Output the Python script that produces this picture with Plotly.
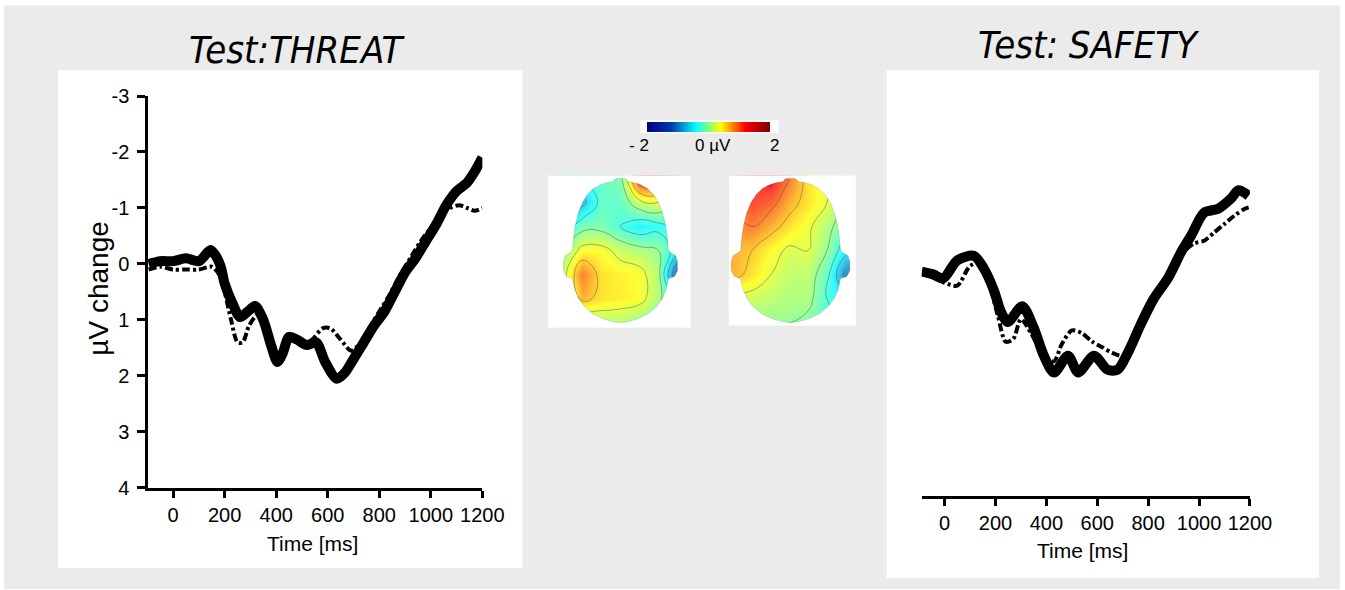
import plotly.graph_objects as go

# figure size chosen so that the photographed page fills the 1345x590 frame
FIG_W, FIG_H = 1368, 602
REF_W, REF_H, TOP = 1345, 590, 10.8
def fx(p): return p / REF_W
def fy(p): return 1 - (p - TOP) / (REF_H - TOP)

# ---------------- data ----------------
# Test: THREAT (left panel)
t_threat_solid = [-95, -50, 0, 50, 100, 145, 165, 185, 200, 230, 260, 290, 318, 350, 380, 405, 425,
                  450, 480, 520, 555, 590, 635, 665, 700, 740, 780, 820, 860, 900, 940, 980, 1020,
                  1060, 1100, 1140, 1170, 1200]
v_threat_solid = [0.0, -0.05, -0.05, -0.1, -0.05, -0.25, -0.15, 0.05, 0.35, 0.7, 0.95, 0.85, 0.75,
                  1.0, 1.45, 1.75, 1.6, 1.3, 1.35, 1.45, 1.4, 1.75, 2.05, 1.95, 1.7, 1.4, 1.1, 0.85,
                  0.5, 0.15, -0.1, -0.4, -0.7, -1.05, -1.3, -1.45, -1.65, -1.9]
t_threat_dash = [-95, -50, 0, 50, 100, 150, 180, 200, 225, 250, 270, 295, 330, 360, 390, 410, 440,
                 470, 500, 540, 580, 610, 650, 690, 720, 760, 800, 840, 880, 920, 960, 1000, 1040,
                 1075, 1110, 1140, 1170, 1200]
v_threat_dash = [0.1, 0.05, 0.1, 0.1, 0.1, 0.05, 0.2, 0.5, 1.0, 1.4, 1.4, 1.1, 0.9, 1.1, 1.55, 1.75,
                 1.35, 1.3, 1.45, 1.35, 1.15, 1.15, 1.35, 1.55, 1.45, 1.15, 0.85, 0.55, 0.2, -0.1,
                 -0.4, -0.65, -0.9, -1.0, -1.05, -1.0, -0.95, -1.0]

# Test: SAFETY (right panel)
t_safety_solid = [-90, -45, -5, 50, 115, 155, 195, 220, 248, 305, 350, 390, 430, 485, 525, 587, 640,
                  680, 720, 770, 820, 880, 930, 970, 1020, 1075, 1125, 1155, 1195]
v_safety_solid = [0.0, 0.05, 0.12, -0.2, -0.28, -0.05, 0.35, 0.7, 0.9, 0.62, 1.0, 1.5, 1.8, 1.5, 1.8,
                  1.5, 1.75, 1.75, 1.45, 0.95, 0.5, 0.1, -0.35, -0.65, -1.05, -1.12, -1.3, -1.45, -1.35]
t_safety_dash = [-90, -40, 0, 50, 100, 140, 180, 210, 240, 270, 300, 340, 390, 430, 460, 500, 540,
                 580, 620, 660, 700, 740, 780, 820, 860, 900, 940, 980, 1020, 1060, 1100, 1140, 1180, 1200]
v_safety_dash = [0.05, 0.1, 0.2, 0.25, -0.1, -0.15, 0.3, 0.8, 1.25, 1.2, 0.85, 1.1, 1.5, 1.6, 1.3,
                 1.05, 1.1, 1.25, 1.35, 1.45, 1.5, 1.2, 0.85, 0.5, 0.2, -0.1, -0.35, -0.5, -0.55,
                 -0.7, -0.85, -1.0, -1.12, -1.15]

x_ticks = [0, 200, 400, 600, 800, 1000, 1200]
y_ticks = [-3, -2, -1, 0, 1, 2, 3, 4]
y_ticktext = ["-3", "-2", "-1", "0", "1", "2", "3", "4"]

# scalp topographies (µV), rows front(top) -> back(bottom), cols left -> right
topo_threat = [
    [-0.5, -0.3, -0.2, -0.1, 1.2, 1.3, 0.8],
    [-1.0, -0.7, -0.2, -0.2, 0.2, 0.3, 0.0],
    [-0.5, -0.1, -0.1, -0.3, -0.5, -0.4, -0.3],
    [0.0, 0.4, 0.4, 0.2, 0.1, 0.0, -0.5],
    [0.2, 0.9, 0.5, 0.45, 0.4, 0.1, -1.3],
    [0.0, 0.7, 0.5, 0.45, 0.4, 0.1, -0.5],
    [-0.3, -0.1, 0.1, 0.1, 0.0, -0.2, -0.4],
]
topo_safety = [
    [0.8, 1.2, 1.3, 0.9, 0.5, 0.3, 0.1],
    [0.9, 1.1, 1.0, 0.7, 0.5, 0.3, 0.0],
    [0.8, 0.9, 0.7, 0.5, 0.35, 0.1, -0.2],
    [0.7, 0.6, 0.4, 0.25, 0.3, 0.0, -0.5],
    [0.7, 0.5, 0.3, 0.15, 0.15, -0.2, -1.0],
    [0.2, 0.2, 0.15, 0.1, 0.1, -0.3, -0.5],
    [-0.1, 0.0, 0.0, 0.0, -0.1, -0.2, -0.3],
]
cbar_range = [-2, 2]
cbar_labels = ["- 2", "0 µV", "2"]

# ---------------- figure ----------------
fig = go.Figure()
BLACK = "black"
SOLID_W = 10
DASH_W = 4
DASH = "8px,3px,3px,3px"

for (ts, vs, td, vd, xa, ya) in [
    (t_threat_solid, v_threat_solid, t_threat_dash, v_threat_dash, "x", "y"),
    (t_safety_solid, v_safety_solid, t_safety_dash, v_safety_dash, "x2", "y2"),
]:
    fig.add_trace(go.Scatter(x=ts, y=vs, mode="lines", xaxis=xa, yaxis=ya, showlegend=False,
                             line=dict(color=BLACK, width=SOLID_W, shape="spline", smoothing=0.8),
                             hoverinfo="skip"))
    fig.add_trace(go.Scatter(x=td, y=vd, mode="lines", xaxis=xa, yaxis=ya, showlegend=False,
                             line=dict(color=BLACK, width=DASH_W, dash=DASH, shape="spline", smoothing=0.8),
                             hoverinfo="skip"))

# heads
head_specs = [
    (topo_threat, "x3", "y3", (548, 690, 175, 327), (563, 178), (19.0, 24.0), 620, 1.0, True),
    (topo_safety, "x4", "y4", (728, 855, 175, 325), (733, 178), (18.67, 24.0), 790, 1.04, False),
]
outline = [(0, 0), (0, 4), (1, 6), (3, 7), (4, 13), (6, 20), (10, 27), (16, 33), (24, 38), (34, 42),
           (46, 45), (60, 47), (72, 48), (74, 50), (77, 55), (83, 57), (92, 57), (98, 54), (100, 48),
           (110, 46), (120, 42), (128, 36), (135, 28), (140, 18), (143, 8), (144, 0)]

shapes = []
def prect(x0, x1, y0, y1, color, layer="below"):
    return dict(type="rect", xref="paper", yref="paper", x0=fx(x0), x1=fx(x1), y0=fy(y1), y1=fy(y0),
                fillcolor=color, line=dict(width=0), layer=layer)

shapes.append(prect(4, 1339, 5, 588, "#ebebeb"))
shapes.append(prect(58, 522, 70, 567, "white"))
shapes.append(prect(886, 1318, 70, 577, "white"))
shapes.append(prect(640, 778, 120, 133, "white"))

layout_axes = {}
for (topo, xa, ya, box, org, step, cx, sc, showscale) in head_specs:
    bx0, bx1, by0, by1 = box
    ox, oy = org
    sx, sy = step
    def tx(p): return (p - ox) / sx
    def ty(p): return (p - oy) / sy
    shapes.append(prect(bx0, bx1, by0, by1, "white"))
    fig.add_trace(go.Heatmap(z=topo, xaxis=xa, yaxis=ya, colorscale="Jet", zmin=cbar_range[0],
                             zmax=cbar_range[1], zsmooth="best", opacity=0.8, hoverinfo="skip",
                             showscale=showscale,
                             colorbar=dict(orientation="h", x=fx(707.5), xanchor="center",
                                           y=fy(126.5), yanchor="middle", len=123, lenmode="pixels",
                                           thickness=10, outlinewidth=0, showticklabels=False,
                                           ticks="", xpad=0, ypad=0)))
    fig.add_trace(go.Contour(z=topo, xaxis=xa, yaxis=ya, showscale=False, hoverinfo="skip",
                             contours=dict(coloring="none", start=-1.8, end=1.8, size=0.3),
                             line=dict(color="rgba(60,60,60,0.5)", width=0.8, smoothing=1.3)))
    top = 178
    right = [(cx + dx * sc, top + dy) for dy, dx in outline]
    left = [(cx - dx * sc, top + dy) for dy, dx in reversed(outline)]
    pts = right + left
    head_path = "M" + " L".join(f"{tx(x):.3f},{ty(y):.3f}" for x, y in pts) + " Z"
    rect_path = (f"M{tx(bx0):.3f},{ty(by0):.3f} L{tx(bx1):.3f},{ty(by0):.3f} "
                 f"L{tx(bx1):.3f},{ty(by1):.3f} L{tx(bx0):.3f},{ty(by1):.3f} Z")
    shapes.append(dict(type="path", xref=xa, yref=ya, path=rect_path + " " + head_path,
                       fillcolor="white", fillrule="evenodd", line=dict(width=0), layer="above"))
    shapes.append(dict(type="path", xref=xa, yref=ya, path=head_path, fillcolor="rgba(0,0,0,0)",
                       line=dict(width=1, color="rgba(0,0,0,0.12)"), layer="above"))
    axn = xa.replace("x", "xaxis")
    ayn = ya.replace("y", "yaxis")
    layout_axes[axn] = dict(domain=[fx(bx0), fx(bx1)], range=[tx(bx0), tx(bx1)], visible=False,
                            anchor=ya, fixedrange=True)
    layout_axes[ayn] = dict(domain=[fy(by1), fy(by0)], range=[ty(by1), ty(by0)], visible=False,
                            anchor=xa, fixedrange=True)

tickfont = dict(family="Liberation Sans, Arial, sans-serif", size=20, color="black")
axis_common = dict(showline=True, linecolor="black", linewidth=2.5, ticks="outside",
                   tickcolor="black", tickwidth=2.5, showgrid=False, zeroline=False,
                   tickfont=tickfont, fixedrange=True)

fig.update_layout(
    width=FIG_W, height=FIG_H, autosize=False,
    margin=dict(l=0, r=0, t=0, b=0),
    paper_bgcolor="white", plot_bgcolor="rgba(0,0,0,0)",
    showlegend=False,
    xaxis=dict(domain=[fx(148), fx(482)], range=[-97, 1200], tickvals=x_ticks, ticklen=7,
               anchor="y", **axis_common),
    yaxis=dict(domain=[fy(487), fy(95.7)], range=[4, -3], tickvals=y_ticks, ticktext=y_ticktext,
               ticklen=8, ticklabelstandoff=4, anchor="x", **axis_common),
    xaxis2=dict(domain=[fx(921), fx(1249)], range=[-90, 1200], tickvals=x_ticks, ticklen=7,
                anchor="y2", **axis_common),
    yaxis2=dict(domain=[fy(495), fy(103)], range=[4, -3], visible=False, anchor="x2",
                fixedrange=True),
    shapes=shapes,
    **layout_axes,
)

def ann(text, x, y, size, family="Liberation Sans, Arial, sans-serif", italic=False, angle=0):
    return dict(text=text, x=fx(x), y=fy(y), xref="paper", yref="paper", showarrow=False,
                xanchor="center", yanchor="middle", textangle=angle,
                font=dict(family=family, size=size, color="black",
                          style="italic" if italic else "normal"))

title_font = "Liberation Sans Narrow, DejaVu Sans Condensed, Roboto, sans-serif"
annotations = [
    ann("Test:THREAT", 297, 50, 38, family=title_font, italic=True),
    ann("Test: SAFETY", 1088, 45, 38, family=title_font, italic=True),
    ann("Time [ms]", 312, 543, 21),
    ann("Time [ms]", 1082, 550, 21),
    ann("µV change", 99, 288, 28, angle=-90),
    ann(cbar_labels[0], 639, 145, 17),
    ann(cbar_labels[1], 712, 145, 17),
    ann(cbar_labels[2], 774, 145, 17),
]
fig.update_layout(annotations=annotations)

fig.write_html("out.html",
               config={"responsive": False, "displayModeBar": False},
               post_script="document.body.style.margin='0';document.body.style.overflow='hidden';")
